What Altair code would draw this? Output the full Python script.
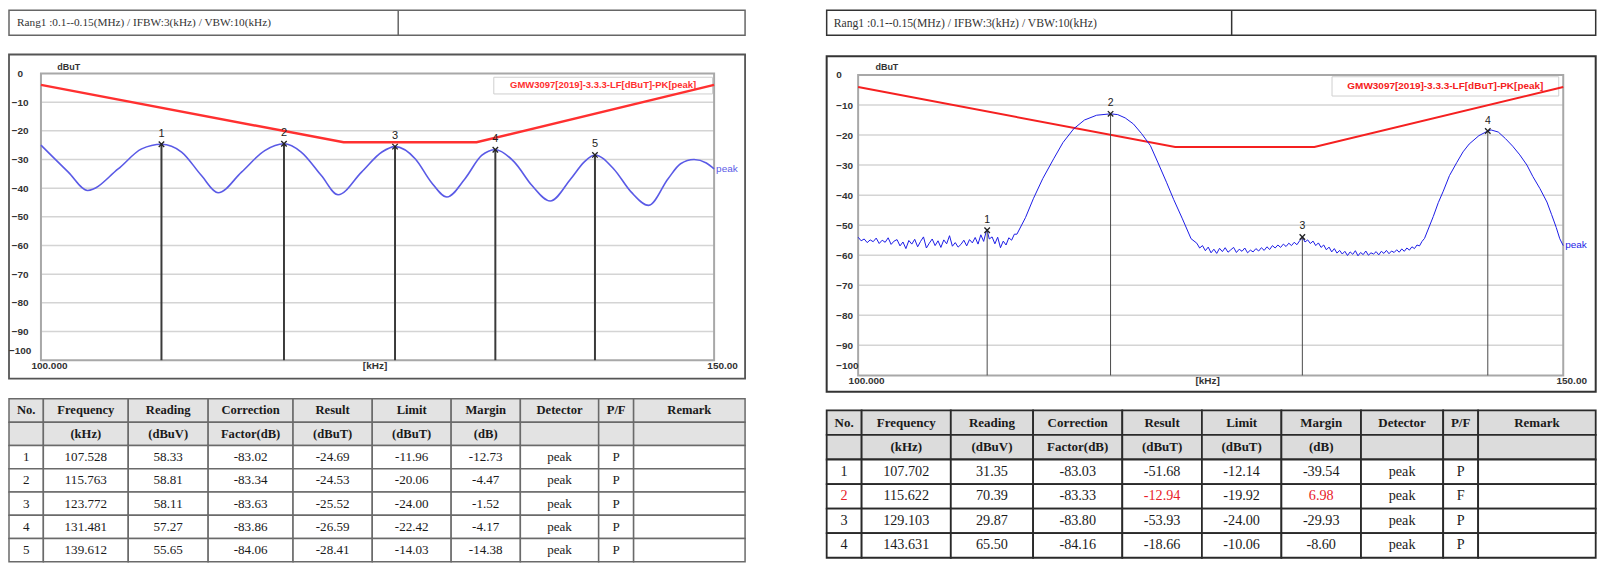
import altair as alt
import numpy as np
import pandas as pd

# ------------------------------------------------------------------ text
HEADER_TEXT = "Rang1 :0.1--0.15(MHz) / IFBW:3(kHz) / VBW:10(kHz)"
LEGEND_TEXT = "GMW3097[2019]-3.3.3-LF[dBuT]-PK[peak]"
TRACE_NAME = "peak"
Y_TITLE = "dBuT"
X_TITLE = "[kHz]"
X_TICKS = [100, 150]
X_TICK_LABELS = ["100.000", "150.00"]
Y_TICKS = [0, -10, -20, -30, -40, -50, -60, -70, -80, -90, -100]
X_DOMAIN = [100, 150]
Y_DOMAIN = [-100, 0]

# ------------------------------------------------------------------ limit line (both charts)
LIMIT_FREQ = [100, 120, 130, 150]
LIMIT_DB = [-4, -24, -24, -4]

# ------------------------------------------------------------------ left chart trace (kHz, dBuT)
LEFT_TRACE_FREQ = [100.0, 101.66, 102.85, 104.76, 106.25, 107.528, 108.84, 110.15, 111.26,
                   112.84, 114.43, 115.763, 116.97, 118.4, 119.6, 121.3, 122.8, 123.772,
                   125.3, 126.5, 127.7, 129.1, 130.4, 131.481, 133.0, 134.4, 135.9, 137.6,
                   138.7, 139.612, 141.2, 142.7, 144.2, 145.9, 147.0, 148.2, 149.3, 150.0]
LEFT_TRACE_DB = [-25.0, -34.4, -40.8, -33.3, -26.3, -24.69, -27.4, -35.6, -41.6,
                 -34.4, -26.9, -24.53, -27.4, -35.6, -42.3, -34.4, -27.4, -25.52,
                 -29.8, -37.9, -43.1, -36.7, -28.6, -26.59, -30.9, -39.0, -44.5, -36.7,
                 -30.9, -28.41, -33.3, -41.4, -46.0, -36.7, -31.5, -30.0, -31.2, -33.3]

# ------------------------------------------------------------------ right chart trace
RIGHT_FLOOR1_SPAN = (100.0, 109.4)
RIGHT_FLOOR1_DB = [-54.0, -55.2, -54.6, -55.8, -54.9, -55.5, -54.3, -56.1, -55.0, -55.7,
                   -54.2, -56.4, -55.3, -54.8, -56.9, -55.6, -57.8, -55.1, -56.3, -54.7,
                   -57.2, -55.4, -53.9, -57.6, -56.0, -54.6, -56.8, -55.2, -57.4, -54.9,
                   -56.2, -53.5, -57.0, -55.8, -57.3, -56.4, -55.0, -56.9, -54.8, -55.9,
                   -54.1, -56.3, -53.2, -55.4, -51.7, -54.6, -53.9, -56.2, -54.0, -57.5,
                   -55.3, -56.6, -54.2, -55.0, -53.0]
RIGHT_PEAK1_FREQ = [109.56, 110.1, 110.6, 111.2, 111.9, 112.5, 113.2, 113.9, 114.7, 115.622,
                    116.1, 116.6, 117.15, 117.7, 118.3, 118.8, 119.4, 119.9, 120.5, 121.1]
RIGHT_PEAK1_DB = [-53.0, -47.5, -41.2, -34.5, -27.9, -22.5, -17.9, -15.0, -13.4, -12.94,
                  -13.2, -14.3, -16.3, -19.5, -23.5, -29.0, -35.7, -41.5, -47.9, -54.5]
RIGHT_FLOOR2_SPAN = (121.5, 138.3)
RIGHT_FLOOR2_DB = [-56.0, -57.6, -56.8, -58.5, -57.3, -59.2, -58.0, -59.4, -57.7, -58.8, -57.5, -59.0,
                   -58.2, -57.4, -59.1, -58.0, -58.7, -57.6, -59.2, -58.3, -58.9, -57.8, -58.6, -57.5, -58.4,
                   -57.2, -58.1, -56.8, -57.6, -56.6, -57.4, -56.3, -57.1, -56.0, -56.8, -55.7, -56.5,
                   -55.2, -54.3, -55.6, -54.9, -56.1, -55.3, -56.8, -55.9,
                   -57.4, -56.6, -58.2, -57.3, -58.9, -57.8, -59.3, -58.4,
                   -59.6, -58.7, -60.1, -58.9, -59.7, -58.5, -60.2, -59.1, -59.8, -58.6, -60.0,
                   -59.2, -59.6, -58.8, -59.9, -58.7, -59.4, -58.4, -59.5, -58.6, -59.1, -58.2,
                   -59.0, -57.9, -58.7, -57.6, -58.3, -57.2, -57.8, -56.6, -56.9, -55.4]
RIGHT_PEAK2_FREQ = [138.5, 139.2, 139.6, 140.0, 140.5, 141.1, 141.6, 142.1, 142.9, 143.631,
                    143.9, 144.5, 145.1, 145.7, 146.3, 146.9, 147.4, 148.0, 148.6, 149.0,
                    149.4, 149.7, 150.0]
RIGHT_PEAK2_DB = [-54.4, -47.1, -42.5, -38.7, -33.5, -29.1, -25.6, -23.0, -20.2, -18.66,
                  -18.3, -19.0, -21.2, -23.7, -26.6, -30.0, -33.8, -37.8, -42.3, -46.5,
                  -50.8, -54.5, -56.8]

# ------------------------------------------------------------------ tables
TABLE_HEAD_1 = ["No.", "Frequency", "Reading", "Correction", "Result", "Limit", "Margin",
                "Detector", "P/F", "Remark"]
TABLE_HEAD_2 = ["", "(kHz)", "(dBuV)", "Factor(dB)", "(dBuT)", "(dBuT)", "(dB)", "", "", ""]

LEFT_NO = ["1", "2", "3", "4", "5"]
LEFT_FREQ = ["107.528", "115.763", "123.772", "131.481", "139.612"]
LEFT_READING = ["58.33", "58.81", "58.11", "57.27", "55.65"]
LEFT_CORR = ["-83.02", "-83.34", "-83.63", "-83.86", "-84.06"]
LEFT_RESULT = ["-24.69", "-24.53", "-25.52", "-26.59", "-28.41"]
LEFT_LIMIT = ["-11.96", "-20.06", "-24.00", "-22.42", "-14.03"]
LEFT_MARGIN = ["-12.73", "-4.47", "-1.52", "-4.17", "-14.38"]
LEFT_DET = ["peak", "peak", "peak", "peak", "peak"]
LEFT_PF = ["P", "P", "P", "P", "P"]

RIGHT_NO = ["1", "2", "3", "4"]
RIGHT_FREQ = ["107.702", "115.622", "129.103", "143.631"]
RIGHT_READING = ["31.35", "70.39", "29.87", "65.50"]
RIGHT_CORR = ["-83.03", "-83.33", "-83.80", "-84.16"]
RIGHT_RESULT = ["-51.68", "-12.94", "-53.93", "-18.66"]
RIGHT_LIMIT = ["-12.14", "-19.92", "-24.00", "-10.06"]
RIGHT_MARGIN = ["-39.54", "6.98", "-29.93", "-8.60"]
RIGHT_DET = ["peak", "peak", "peak", "peak"]
RIGHT_PF = ["P", "F", "P", "P"]

# ------------------------------------------------------------------ layout / style (not data)
HEADER_H = 25
PLOT_ROW_H = 321
ROW_GAP = 21.5
COL_GAP = 81.7

LEFT_STYLE = dict(
    w=737, plot_x=[32, 706], plot_y=[303.8, 16.7], frame_box=(0, 737, -2.3, 322.2),
    divider=389.7, header_font=11.3, header_text_x=8, box_stroke="#555", box_w=1.8,
    hdr_stroke="#666", y_label_align="center", y_label_pad=9.3,
    y_title_xy=(39.4, 9.5), x_title_x=366, legend_box=(485.4, 704.4, 20.5, 37.2),
    legend_text_xy=(594.9, 28.2), legend_font=9.5, trace_color="#5a5ae6", trace_w=1.6,
    interp="monotone", limit_color="#ff3030", limit_w=2.4, marker_color="#3a3a3a",
    marker_w=2, num_font=11, peak_dy=0,
    col_w=[34.4, 85, 80, 85, 79.3, 79, 69.3, 78.4, 35, 111.6], row_h=23.3, table_top=0,
    head_font=12.6, body_font=13.1, line_color="#6a6a6a", line_w=1.5, head_bg="#e3e3e3",
)
RIGHT_STYLE = dict(
    w=770, plot_x=[31.5, 737.5], plot_y=[319, 18.2], frame_box=(0, 770, -0.5, 335.5),
    divider=405.5, header_font=11.7, header_text_x=7, box_stroke="#333", box_w=2,
    hdr_stroke="#333", y_label_align="left", y_label_pad=11,
    y_title_xy=(39.8, 9.5), x_title_x=381, legend_box=(506, 733, 20, 39.3),
    legend_text_xy=(619.5, 29.6), legend_font=10, trace_color="#1c1ce6", trace_w=1.0,
    interp="linear", limit_color="#f52020", limit_w=2, marker_color="#4a4a4a",
    marker_w=1, num_font=10.5, peak_dy=-1,
    col_w=[35, 89.3, 82.4, 89.3, 79.7, 79.6, 79.7, 82.3, 35, 117.7], row_h=24.6, table_top=11.5,
    head_font=13, body_font=14.2, line_color="#2a2a2a", line_w=1.8, head_bg="#dcdcdc",
)

AXIS_FONT = "Liberation Sans"
SERIF = "Liberation Serif"
AXIS_COLOR = "#333333"


def build_header(S):
    W, H = S["w"], HEADER_H
    df = pd.DataFrame({"t": [HEADER_TEXT]})
    div = alt.Chart(df).mark_rule(color=S["hdr_stroke"], strokeWidth=1.5).encode(
        x=alt.value(S["divider"]), y=alt.value(0), y2=alt.value(H))
    txt = alt.Chart(df).mark_text(align="left", baseline="middle", font=SERIF,
                                  fontSize=S["header_font"], color="#333").encode(
        x=alt.value(S["header_text_x"]), y=alt.value(H / 2 + 0.5), text="t:N")
    return alt.layer(div, txt).properties(
        width=W, height=H, view=alt.ViewBackground(stroke=S["hdr_stroke"], strokeWidth=1.5))


def build_plot(S, trace_df, marker_freq, marker_db):
    W, H = S["w"], PLOT_ROW_H
    xs = alt.Scale(type="log", domain=X_DOMAIN, range=S["plot_x"], nice=False)
    ys = alt.Scale(domain=Y_DOMAIN, range=S["plot_y"], nice=False, zero=False)
    label_expr = (f"datum.value == {X_TICKS[0]} ? '{X_TICK_LABELS[0]}' : "
                  f"'{X_TICK_LABELS[1]}'")
    xax = alt.Axis(values=X_TICKS, labelExpr=label_expr, domain=False, ticks=False,
                   tickSize=0, grid=False, labelFont=AXIS_FONT, labelFontSize=10,
                   labelFontWeight="bold", labelColor=AXIS_COLOR, labelAlign="center",
                   labelBaseline="middle", labelPadding=5.5, labelOffset=8,
                   labelFlush=False, labelOverlap=False, zindex=1,
                   offset=-(H - S["plot_y"][0]), title=X_TITLE, titleX=S["x_title_x"],
                   titleY=5.5, titleAlign="center", titleBaseline="middle",
                   titleFont=AXIS_FONT, titleFontSize=10, titleFontWeight="bold",
                   titleColor=AXIS_COLOR)
    yax = alt.Axis(values=Y_TICKS, domain=False, ticks=False, tickSize=0, grid=False,
                   labelFont=AXIS_FONT, labelFontSize=10, labelFontWeight="bold",
                   labelColor=AXIS_COLOR, labelAlign=S["y_label_align"],
                   labelBaseline="middle", labelPadding=S["y_label_pad"],
                   labelOffset={"condition": {"test": "datum.value == -100", "value": -10},
                                "value": 0},
                   labelOverlap=False, labelFlush=False, offset=-20, zindex=1,
                   title=Y_TITLE, titleAngle=0, titleX=S["y_title_xy"][0],
                   titleY=S["y_title_xy"][1], titleAlign="center", titleBaseline="middle",
                   titleFont=AXIS_FONT, titleFontSize=9, titleFontWeight="bold",
                   titleColor=AXIS_COLOR)

    def X(f):
        return alt.X(f, type="quantitative", scale=xs, axis=xax)

    def Y(f):
        return alt.Y(f, type="quantitative", scale=ys, axis=yax)

    one = pd.DataFrame({"label": [LEGEND_TEXT]})
    fb = S["frame_box"]
    outer = alt.Chart(one).mark_rect(fill="white", fillOpacity=0, stroke=S["box_stroke"],
                                     strokeWidth=S["box_w"]).encode(
        x=alt.value(fb[0]), x2=alt.value(fb[1]), y=alt.value(fb[2]), y2=alt.value(fb[3]))

    grid_df = pd.DataFrame({"g": Y_TICKS[1:-1], "f0": X_DOMAIN[0], "f1": X_DOMAIN[1]})
    grid = alt.Chart(grid_df).mark_rule(color="#d4d4d4", strokeWidth=1.5).encode(
        x=X("f0:Q"), x2="f1:Q", y=Y("g:Q"))

    frame_df = pd.DataFrame({"f0": [X_DOMAIN[0]], "f1": [X_DOMAIN[1]],
                             "d0": [Y_DOMAIN[0]], "d1": [Y_DOMAIN[1]]})
    frame = alt.Chart(frame_df).mark_rect(fill="white", fillOpacity=0, stroke="#a8a8a8",
                                          strokeWidth=2).encode(
        x=X("f0:Q"), x2="f1:Q", y=Y("d0:Q"), y2="d1:Q")

    lb = S["legend_box"]
    leg_box = alt.Chart(one).mark_rect(fill="white", stroke="#cfcfcf", strokeWidth=1).encode(
        x=alt.value(lb[0]), x2=alt.value(lb[1]), y=alt.value(lb[2]), y2=alt.value(lb[3]))
    leg_txt = alt.Chart(one).mark_text(font=AXIS_FONT, fontSize=S["legend_font"],
                                       fontWeight="bold", color=S["limit_color"],
                                       align="center", baseline="middle").encode(
        x=alt.value(S["legend_text_xy"][0]), y=alt.value(S["legend_text_xy"][1]),
        text="label:N")

    limit_df = pd.DataFrame({"f": LIMIT_FREQ, "db": LIMIT_DB})
    limit = alt.Chart(limit_df).mark_line(color=S["limit_color"],
                                          strokeWidth=S["limit_w"]).encode(
        x=X("f:Q"), y=Y("db:Q"))

    trace = alt.Chart(trace_df).mark_line(color=S["trace_color"], strokeWidth=S["trace_w"],
                                          interpolate=S["interp"]).encode(
        x=X("f:Q"), y=Y("db:Q"))

    mk_df = pd.DataFrame({"f": marker_freq, "db": marker_db,
                          "bottom": Y_DOMAIN[0],
                          "n": [str(i + 1) for i in range(len(marker_freq))]})
    rules = alt.Chart(mk_df).mark_rule(color=S["marker_color"],
                                       strokeWidth=S["marker_w"]).encode(
        x=X("f:Q"), y=Y("db:Q"), y2="bottom:Q")
    cross = alt.Chart(mk_df).mark_point(shape="M-1,-1L1,1M-1,1L1,-1", size=30, filled=False,
                                        color="#222", strokeWidth=1.3, opacity=1).encode(
        x=X("f:Q"), y=Y("db:Q"))
    nums = alt.Chart(mk_df).mark_text(font=AXIS_FONT, fontSize=S["num_font"], color="#222",
                                      dy=-10.5, baseline="middle").encode(
        x=X("f:Q"), y=Y("db:Q"), text="n:N")

    end_df = trace_df.sort_values("f").tail(1).assign(label=TRACE_NAME)
    peak_lbl = alt.Chart(end_df).mark_text(font=AXIS_FONT, fontSize=10, color=S["trace_color"],
                                           align="left", baseline="middle", dx=2,
                                           dy=S["peak_dy"]).encode(
        x=X("f:Q"), y=Y("db:Q"), text="label:N")

    return alt.layer(outer, grid, leg_box, frame, limit, trace, rules, cross, nums, leg_txt,
                     peak_lbl).properties(width=W, height=H)


def build_table(S, columns):
    W = S["w"]
    rh = S["row_h"]
    top = S["table_top"]
    edges = [0.0]
    for w in S["col_w"]:
        edges.append(edges[-1] + w)
    records = list(zip(*columns))
    n_rows = 2 + len(records)
    H = top + n_rows * rh
    cells = []
    for r, labels in enumerate([TABLE_HEAD_1, TABLE_HEAD_2]):
        for c, lab in enumerate(labels):
            cells.append(dict(x0=edges[c], x1=edges[c + 1], y0=top + r * rh,
                              y1=top + (r + 1) * rh, xc=(edges[c] + edges[c + 1]) / 2,
                              yc=top + (r + 0.5) * rh, text=lab, bg=S["head_bg"],
                              kind="head", color="#1a1a1a"))
    for i, rec in enumerate(records):
        fail = rec[8] == "F"
        vals = list(rec) + [""]
        r = i + 2
        for c, val in enumerate(vals):
            red = fail and c in (0, 4, 6)
            cells.append(dict(x0=edges[c], x1=edges[c + 1], y0=top + r * rh,
                              y1=top + (r + 1) * rh, xc=(edges[c] + edges[c + 1]) / 2,
                              yc=top + (r + 0.5) * rh, text=val, bg="#ffffff",
                              kind="body", color="#e8202a" if red else "#1a1a1a"))
    df = pd.DataFrame(cells)
    xs = alt.Scale(domain=[0, W], range=[0, W], nice=False, zero=False)
    ys = alt.Scale(domain=[0, H], range=[0, H], nice=False, zero=False)
    rect = alt.Chart(df).mark_rect(stroke=S["line_color"], strokeWidth=S["line_w"]).encode(
        x=alt.X("x0:Q", scale=xs, axis=None), x2="x1:Q",
        y=alt.Y("y0:Q", scale=ys, axis=None), y2="y1:Q",
        fill=alt.Fill("bg:N", scale=None))
    head = alt.Chart(df).transform_filter("datum.kind == 'head'").mark_text(
        font=SERIF, fontSize=S["head_font"], fontWeight="bold", baseline="middle",
        align="center").encode(
        x=alt.X("xc:Q", scale=xs, axis=None), y=alt.Y("yc:Q", scale=ys, axis=None),
        text="text:N", color=alt.Color("color:N", scale=None))
    body = alt.Chart(df).transform_filter("datum.kind == 'body'").mark_text(
        font=SERIF, fontSize=S["body_font"], baseline="middle", align="center").encode(
        x=alt.X("xc:Q", scale=xs, axis=None), y=alt.Y("yc:Q", scale=ys, axis=None),
        text="text:N", color=alt.Color("color:N", scale=None))
    return alt.layer(rect, head, body).properties(width=W, height=H)


# ------------------------------------------------------------------ assemble traces
left_trace = pd.DataFrame({"f": LEFT_TRACE_FREQ, "db": LEFT_TRACE_DB})

right_marker_f = [float(v) for v in RIGHT_FREQ]
right_marker_db = [float(v) for v in RIGHT_RESULT]
right_trace = pd.concat([
    pd.DataFrame({"f": np.linspace(*RIGHT_FLOOR1_SPAN, len(RIGHT_FLOOR1_DB)),
                  "db": RIGHT_FLOOR1_DB}),
    pd.DataFrame({"f": RIGHT_PEAK1_FREQ, "db": RIGHT_PEAK1_DB}),
    pd.DataFrame({"f": np.linspace(*RIGHT_FLOOR2_SPAN, len(RIGHT_FLOOR2_DB)),
                  "db": RIGHT_FLOOR2_DB}),
    pd.DataFrame({"f": RIGHT_PEAK2_FREQ, "db": RIGHT_PEAK2_DB}),
    pd.DataFrame({"f": [right_marker_f[0], right_marker_f[2]],
                  "db": [right_marker_db[0], right_marker_db[2]]}),
]).drop_duplicates("f").sort_values("f").reset_index(drop=True)

left_cols = [LEFT_NO, LEFT_FREQ, LEFT_READING, LEFT_CORR, LEFT_RESULT, LEFT_LIMIT,
             LEFT_MARGIN, LEFT_DET, LEFT_PF]
right_cols = [RIGHT_NO, RIGHT_FREQ, RIGHT_READING, RIGHT_CORR, RIGHT_RESULT, RIGHT_LIMIT,
              RIGHT_MARGIN, RIGHT_DET, RIGHT_PF]

header_l = build_header(LEFT_STYLE)
header_r = build_header(RIGHT_STYLE)
plot_l = build_plot(LEFT_STYLE, left_trace, [float(v) for v in LEFT_FREQ],
                    [float(v) for v in LEFT_RESULT])
plot_r = build_plot(RIGHT_STYLE, right_trace, right_marker_f, right_marker_db)
table_l = build_table(LEFT_STYLE, left_cols)
table_r = build_table(RIGHT_STYLE, right_cols)

chart = alt.concat(
    header_l, header_r, plot_l, plot_r, table_l, table_r,
    columns=2, spacing={"row": ROW_GAP, "column": COL_GAP}, align="none", bounds="flush",
).properties(padding=0, background="white").configure(
    font=AXIS_FONT).configure_view(stroke=None)

chart.save("out.html", embed_options={"renderer": "svg", "actions": False})
